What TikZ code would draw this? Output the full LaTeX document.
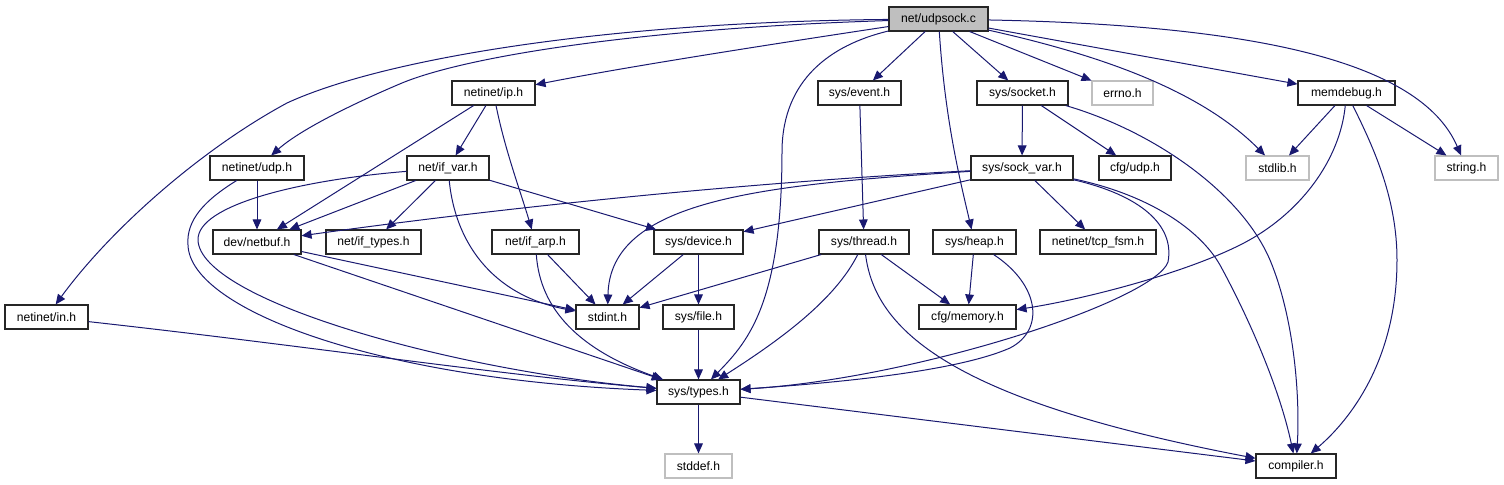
\documentclass[tikz,border=0pt]{standalone}
\usepackage{fontspec}
\setmainfont{Liberation Sans}
\usetikzlibrary{arrows.meta}
\definecolor{edgec}{HTML}{191970}
\definecolor{graybox}{HTML}{BFBFBF}
\tikzset{
  hdr/.style={draw=black!85, line width=0.8pt, fill=white, inner sep=0pt,
    minimum height=24*0.75pt, font=\fontsize{9.1}{11}\selectfont},
  ext/.style={hdr, draw=graybox},
  wd/.style={minimum width=#1*0.75pt},
  dep/.style={draw=edgec, line width=0.75pt, -{Triangle[length=7.5pt,width=6.5pt]}}
}
\begin{document}
\begin{tikzpicture}[x=0.75pt,y=-0.75pt]
\useasboundingbox (0,0) rectangle (1504,485);
% nodes
\node[hdr, wd=99, fill=graybox] (main) at (938.5,19) {net/udpsock.c};
\node[hdr, wd=83] (ip) at (493.5,93) {netinet/ip.h};
\node[hdr, wd=83] (event) at (859.5,93) {sys/event.h};
\node[hdr, wd=91] (socket) at (1022.5,93) {sys/socket.h};
\node[ext, wd=61] (errno) at (1122.5,93) {errno.h};
\node[hdr, wd=97] (memdebug) at (1346.5,93) {memdebug.h};
\node[hdr, wd=94] (udp) at (257,168) {netinet/udp.h};
\node[hdr, wd=82] (ifvar) at (448,168) {net/if\_var.h};
\node[hdr, wd=102] (sockvar) at (1022,168) {sys/sock\_var.h};
\node[hdr, wd=72] (cfgudp) at (1135,168) {cfg/udp.h};
\node[ext, wd=63] (stdlib) at (1277.5,168) {stdlib.h};
\node[ext, wd=63] (string) at (1466.5,168) {string.h};
\node[hdr, wd=88] (netbuf) at (257,242) {dev/netbuf.h};
\node[hdr, wd=95] (iftypes) at (373.5,242) {net/if\_types.h};
\node[hdr, wd=87] (ifarp) at (535.5,242) {net/if\_arp.h};
\node[hdr, wd=89] (device) at (698.5,242) {sys/device.h};
\node[hdr, wd=90] (thread) at (864,242) {sys/thread.h};
\node[hdr, wd=83] (heap) at (974.5,242) {sys/heap.h};
\node[hdr, wd=116] (tcpfsm) at (1098,242) {netinet/tcp\_fsm.h};
\node[hdr, wd=83] (in) at (46.5,317) {netinet/in.h};
\node[hdr, wd=63] (stdint) at (607.5,317) {stdint.h};
\node[hdr, wd=71] (file) at (698.5,317) {sys/file.h};
\node[hdr, wd=97] (memory) at (967.5,317) {cfg/memory.h};
\node[hdr, wd=83] (types) at (698.5,392) {sys/types.h};
\node[ext, wd=67] (stddef) at (698.5,466) {stddef.h};
\node[hdr, wd=80] (compiler) at (1296,466) {compiler.h};
% edges from net/udpsock.c
\draw[dep] (main) .. controls (600,22) and (380,60) .. (287,103) .. controls (200,150) and (110,230) .. (in);
\draw[dep] (main) .. controls (650,28) and (470,55) .. (402,83) .. controls (350,105) and (300,130) .. (udp);
\draw[dep] (main) .. controls (700,55) and (600,72) .. (ip);
\draw[dep] (main) .. controls (830,45) and (783,80) .. (782,150) .. controls (782,300) and (750,340) .. (types);
\draw[dep] (main) -- (event);
\draw[dep] (main) .. controls (945,120) and (960,180) .. (heap);
\draw[dep] (main) -- (socket);
\draw[dep] (main) -- (errno);
\draw[dep] (main) .. controls (1100,55) and (1200,90) .. (stdlib);
\draw[dep] (main) -- (memdebug);
\draw[dep] (main) .. controls (1250,25) and (1420,60) .. (string);
% netinet/ip.h
\draw[dep] (ip) -- (netbuf);
\draw[dep] (ip) -- (ifvar);
\draw[dep] (ip) .. controls (505,150) and (520,190) .. (ifarp);
% netinet/udp.h
\draw[dep] (udp) -- (netbuf);
\draw[dep] (udp) .. controls (205,200) and (186,220) .. (188,245) .. controls (190,310) and (380,380) .. (types);
% net/if_var.h
\draw[dep] (ifvar) .. controls (300,180) and (197,205) .. (198,240) .. controls (200,300) and (450,370) .. (types);
\draw[dep] (ifvar) -- (netbuf);
\draw[dep] (ifvar) -- (iftypes);
\draw[dep] (ifvar) .. controls (455,240) and (490,295) .. (stdint);
\draw[dep] (ifvar) -- (device);
% sys/event.h
\draw[dep] (event) -- (thread);
% sys/socket.h
\draw[dep] (socket) -- (sockvar);
\draw[dep] (socket) -- (cfgudp);
\draw[dep] (socket) .. controls (1150,130) and (1240,190) .. (1270,260) .. controls (1295,320) and (1300,400) .. (compiler);
% sys/sock_var.h
\draw[dep] (sockvar) .. controls (700,185) and (450,215) .. (netbuf);
\draw[dep] (sockvar) .. controls (760,185) and (610,200) .. (stdint);
\draw[dep] (sockvar) -- (device);
\draw[dep] (sockvar) -- (tcpfsm);
\draw[dep] (sockvar) .. controls (1140,195) and (1175,225) .. (1168,262) .. controls (1155,300) and (920,378) .. (types);
\draw[dep] (sockvar) .. controls (1150,195) and (1200,230) .. (1220,265) .. controls (1250,320) and (1280,390) .. (compiler);
% memdebug.h
\draw[dep] (memdebug) -- (stdlib);
\draw[dep] (memdebug) -- (string);
\draw[dep] (memdebug) .. controls (1340,160) and (1300,215) .. (1240,245) .. controls (1180,275) and (1080,300) .. (memory);
\draw[dep] (memdebug) .. controls (1375,150) and (1397,200) .. (1397,260) .. controls (1397,360) and (1350,420) .. (compiler);
% dev/netbuf.h
\draw[dep] (netbuf) -- (stdint);
\draw[dep] (netbuf) -- (types);
% net/if_arp.h
\draw[dep] (ifarp) -- (stdint);
\draw[dep] (ifarp) .. controls (540,310) and (580,350) .. (types);
% sys/device.h
\draw[dep] (device) -- (stdint);
\draw[dep] (device) -- (file);
% sys/thread.h
\draw[dep] (thread) -- (stdint);
\draw[dep] (thread) .. controls (835,300) and (780,340) .. (types);
\draw[dep] (thread) -- (memory);
\draw[dep] (thread) .. controls (875,330) and (950,400) .. (compiler);
% sys/heap.h
\draw[dep] (heap) -- (memory);
\draw[dep] (heap) .. controls (1040,285) and (1045,330) .. (1010,348) .. controls (960,370) and (850,382) .. (types);
% others
\draw[dep] (in) .. controls (300,345) and (500,375) .. (types);
\draw[dep] (file) -- (types);
\draw[dep] (types) -- (stddef);
\draw[dep] (types) -- (compiler);
\end{tikzpicture}
\end{document}
